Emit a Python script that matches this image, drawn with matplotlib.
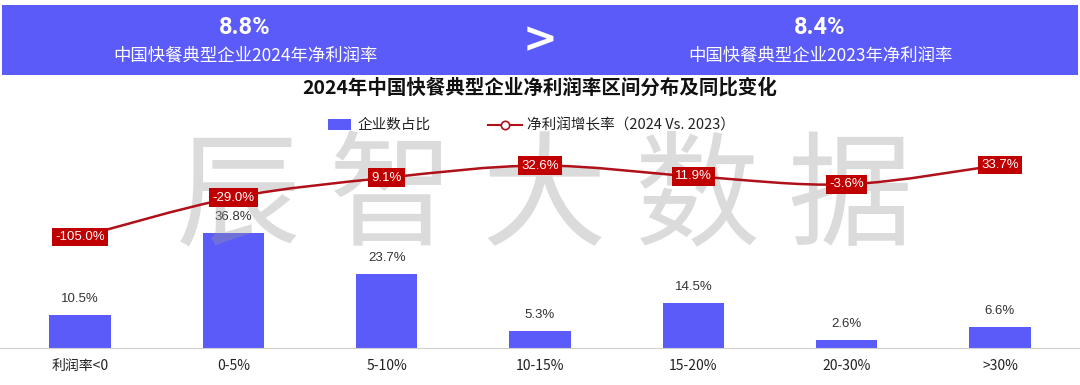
import numpy as np
import matplotlib
matplotlib.use("Agg")
import matplotlib.pyplot as plt
import matplotlib.patches as patches
from matplotlib.path import Path

plt.rcParams['font.family'] = ['Noto Sans CJK SC', 'DejaVu Sans']

# data
categories = ["利润率<0", "0-5%", "5-10%", "10-15%", "15-20%", "20-30%", ">30%"]
share = [10.5, 36.8, 23.7, 5.3, 14.5, 2.6, 6.6]            # 企业数占比 (%)
growth = [-105.0, -29.0, 9.1, 32.6, 11.9, -3.6, 33.7]      # 净利润增长率 (%)
rate_2024 = "8.8%"
rate_2023 = "8.4%"

blue = '#5B5BFA'
red = '#C00000'
line_red = '#B0101A'

fig = plt.figure(figsize=(10.8, 3.85), dpi=100)

# top banner
fig.patches.append(patches.Rectangle((2/1080, 1 - 75/385), 1076/1080, 70/385,
                                     transform=fig.transFigure, facecolor=blue,
                                     edgecolor='none', zorder=0))
for xc, val, yr in [(245, rate_2024, 2024), (820, rate_2023, 2023)]:
    fig.text(xc/1080, 1 - 28/385, val, color='white', fontsize=17, fontweight='bold',
             ha='center', va='center', family=['Roboto', 'DejaVu Sans'])
    fig.text(xc/1080, 1 - 56/385, "中国快餐典型企业%d年净利润率" % yr, color='white',
             fontsize=12.5, ha='center', va='center')
fig.text(540/1080, 1 - 40/385, ">", color='white', fontsize=30, fontweight='bold',
         ha='center', va='center', family=['DejaVu Sans'])

fig.text(0.5, 1 - 88/385, "2024年中国快餐典型企业净利润率区间分布及同比变化",
         fontsize=14, fontweight='bold', ha='center', va='center', color='#111111')

# legend
ly = 1 - 125/385
fig.patches.append(patches.Rectangle((328/1080, ly - 5/385), 23/1080, 11/385,
                                     transform=fig.transFigure, facecolor=blue, edgecolor='none'))
fig.text(358/1080, ly, "企业数占比", fontsize=10.5, va='center', color='#222222')
fig.add_artist(plt.Line2D([488/1080, 522/1080], [ly, ly], color=line_red, lw=1.5,
                          transform=fig.transFigure))
fig.add_artist(plt.Line2D([505/1080], [ly], marker='o', markersize=6, markerfacecolor='white',
                          markeredgecolor=line_red, markeredgewidth=1.2, transform=fig.transFigure))
fig.text(527/1080, ly, "净利润增长率（2024 Vs. 2023）", fontsize=10.5, va='center', color='#222222')

# main axes
ax = fig.add_axes([0, 37/385, 1, 248/385])
x = np.arange(len(categories))
ax.bar(x, share, width=0.4, color=blue, zorder=2)
for xi, v in zip(x, share):
    ax.text(xi, v + 3.2, "%.1f%%" % v, ha='center', va='bottom', fontsize=9.5,
            color='#333333', family=['Liberation Sans', 'DejaVu Sans'])
ax.set_xlim(-80/153.33, len(categories) - 1 + 80/153.33)
ax.set_ylim(0, 79.2)
ax.set_xticks(x)
ax.set_xticklabels(categories, fontsize=10, color='#222222')
ax.tick_params(axis='x', length=0, pad=8)
ax.set_yticks([])
for s in ['top', 'right', 'left']:
    ax.spines[s].set_visible(False)
ax.spines['bottom'].set_color('#D0D0D0')
ax.patch.set_alpha(0)

ax2 = ax.twinx()
ax2.set_ylim(-318.9, 158.9)
ax2.set_yticks([])
for s in ax2.spines.values():
    s.set_visible(False)

# watermark: above the bars, under the line and its labels
ax2.text(545/1080, 1 - 201/385, "辰 智 大 数 据", fontsize=90, color='#9A9A9A',
         alpha=0.35, ha='center', va='center', zorder=2, transform=fig.transFigure)

# smooth line through the points (Catmull-Rom as cubic Bezier)
pts = np.column_stack([x, growth]).astype(float)
verts = [tuple(pts[0])]
codes = [Path.MOVETO]
t = 1/6
for i in range(len(pts) - 1):
    p0 = pts[i - 1] if i > 0 else pts[i]
    p1 = pts[i]
    p2 = pts[i + 1]
    p3 = pts[i + 2] if i + 2 < len(pts) else pts[i + 1]
    c1 = p1 + (p2 - p0) * t
    c2 = p2 - (p3 - p1) * t
    verts += [tuple(c1), tuple(c2), tuple(p2)]
    codes += [Path.CURVE4] * 3
ax2.add_patch(patches.PathPatch(Path(verts, codes), facecolor='none', edgecolor=line_red,
                                lw=1.8, zorder=3))
for xi, v in zip(x, growth):
    ax2.text(xi, v, "%.1f%%" % v, ha='center', va='center', fontsize=9.5, color='white',
             family=['Liberation Sans', 'DejaVu Sans'], zorder=5,
             bbox=dict(boxstyle='square,pad=0.25', facecolor=red, edgecolor='none'))

fig.savefig("out.png", dpi=100)
